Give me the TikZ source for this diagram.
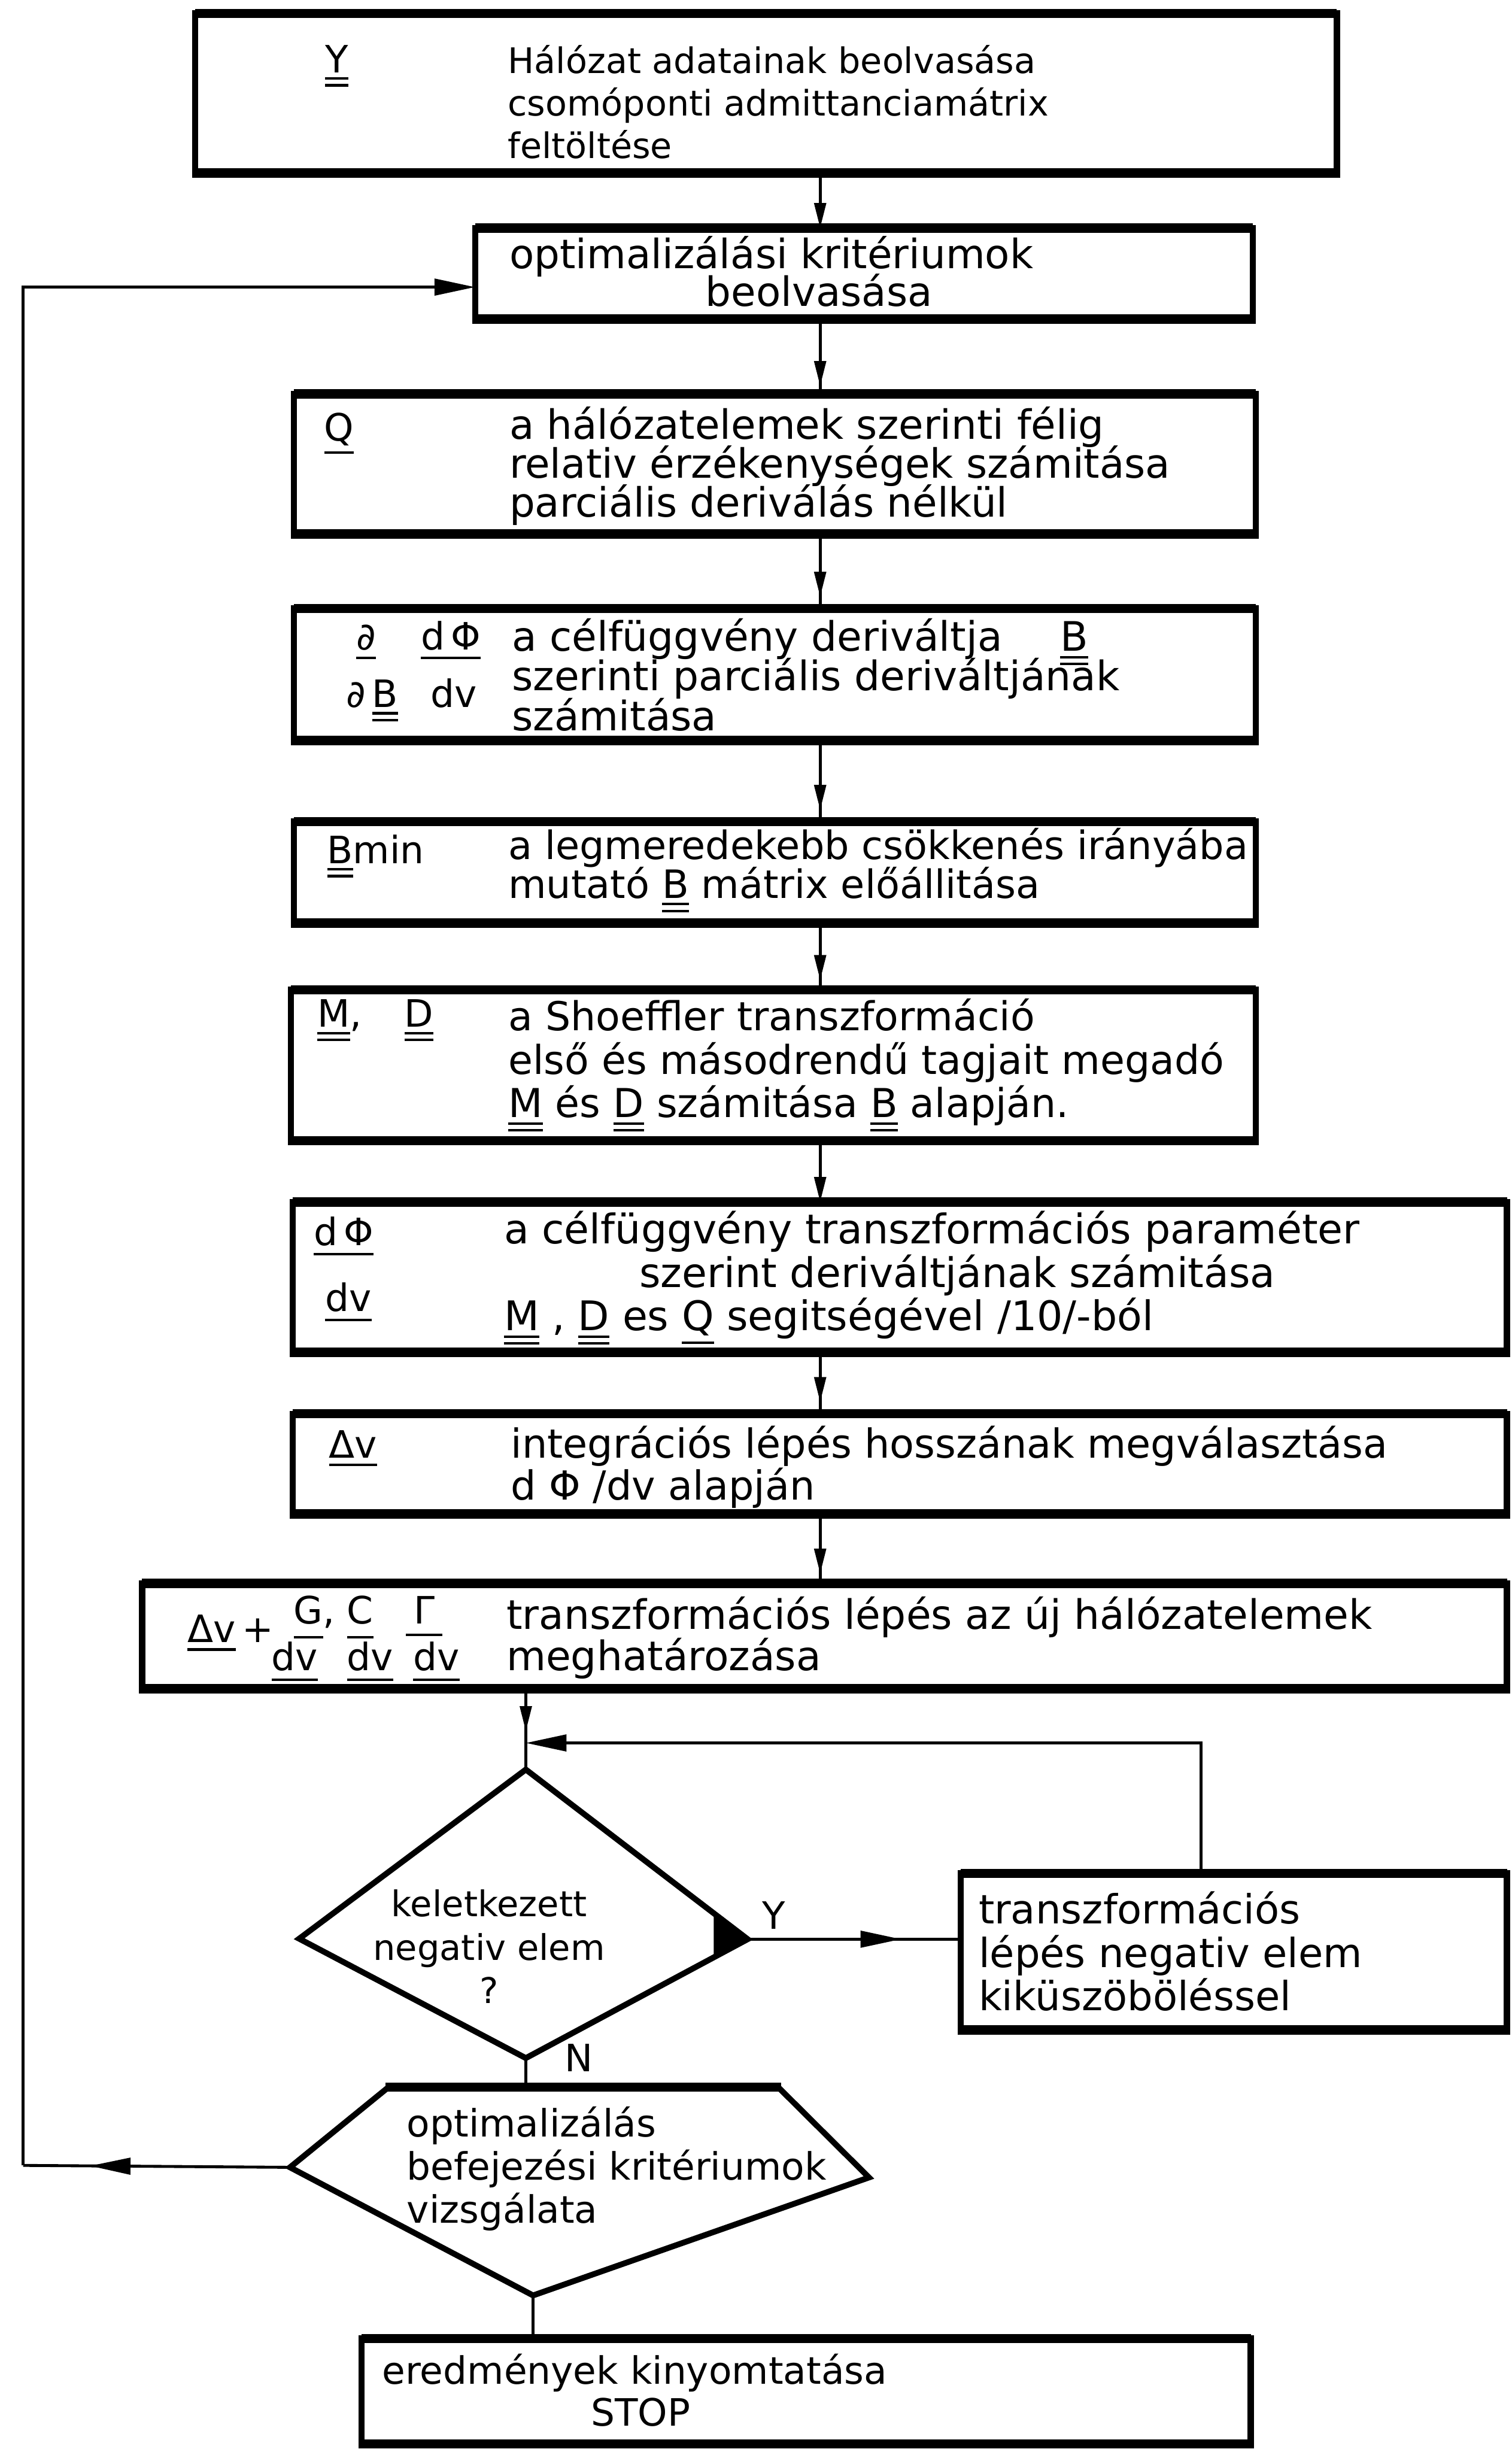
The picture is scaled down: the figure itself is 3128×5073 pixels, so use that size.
\documentclass[tikz,border=0pt]{standalone}
\usepackage{fontspec}
\setmainfont{DejaVu Sans}
\usetikzlibrary{arrows.meta,decorations.markings,fit,calc}

% lettering size
\newcommand\lett{\fontsize{19.5pt}{22pt}\selectfont}
% stacked lines with a fixed baseline distance; baseline = first line
\newcommand\tlines[2]{\vtop{\baselineskip=#1\relax\lineskiplimit=-\maxdimen\lineskip=0pt\halign{##\hfil\cr#2\crcr}}}
\newcommand\clines[2]{\vtop{\baselineskip=#1\relax\lineskiplimit=-\maxdimen\lineskip=0pt\halign{\hfil##\hfil\cr#2\crcr}}}
% single and double underlined symbols (vector / matrix notation)
\newcommand\unl[2][3pt]{\vtop{\hbox{#2}\kern#1\hrule height1.3pt}}
\newcommand\dunl[1]{\vtop{\hbox{#1}\kern2.5pt\hrule height1.3pt\kern2.2pt\hrule height1.3pt}}

\tikzset{
  procbox/.style={draw, line width=3.2pt, inner sep=0pt, outer sep=0pt},
  rimline/.style={line width=4.8pt, shorten <=-1.6pt, shorten >=-1.6pt},
  shapeline/.style={line width=3pt, line join=miter},
  txt/.style={anchor=base west, inner sep=0pt, outer sep=0pt, font=\lett},
  ctxt/.style={anchor=base, inner sep=0pt, outer sep=0pt, font=\lett},
  fs/.style={font=\fontsize{#1}{22pt}\selectfont},
  conn/.style={line width=1.5pt},
  tipsmall/.style={postaction=decorate, decoration={markings,
      mark=at position #1 with {\arrow{Triangle[length=13pt,width=6pt]}}}},
  tipbig/.style={postaction=decorate, decoration={markings,
      mark=at position #1 with {\arrow{Triangle[length=21pt,width=8.5pt]}}}},
  endsmall/.style={-{Triangle[length=13pt,width=6pt]}},
  endbig/.style={-{Triangle[length=21pt,width=8.5pt]}},
}

\begin{document}
\begin{tikzpicture}[x=0.25pt, y=-0.25pt]
\fill[white] (0,0) rectangle (3128,5073);
\useasboundingbox (0,0) rectangle (3128,5073);

% ---------- process boxes ----------
\node[procbox, fit={(404,28) (2766,358)}]   (b1) {};
\node[procbox, fit={(983,472) (2592,660)}]  (b2) {};
\node[procbox, fit={(608,815) (2598,1105)}] (b3) {};
\node[procbox, fit={(608,1259) (2598,1532)}] (b4) {};
\node[procbox, fit={(608,1700) (2598,1910)}] (b5) {};
\node[procbox, fit={(602,2048) (2598,2360)}] (b6) {};
\node[procbox, fit={(606,2487) (3118,2798)}] (b7) {};
\node[procbox, fit={(606,2925) (3118,3132)}] (b8) {};
\node[procbox, fit={(294,3276) (3118,3494)}] (b9) {};
\node[procbox, fit={(1988,3876) (3118,4200)}] (rb) {};
\node[procbox, fit={(748,4838) (2588,5056)}] (bf) {};
\foreach \n in {b1,b2,b3,b4,b5,b6,b7,b8,b9,rb,bf}
  \draw[rimline] (\n.north west) -- (\n.north east) (\n.south west) -- (\n.south east);

% ---------- decision shapes ----------
\coordinate (dt) at (1088,3661);
\coordinate (dr) at (1547,4012);
\coordinate (db) at (1088,4258);
\coordinate (dl) at (619,4011);
\draw[shapeline] (dt) -- (dr) -- (db) -- (dl) -- cycle;
\fill ($(dr)!0.153!(dt)$) -- (dr) -- ($(dr)!0.153!(db)$) -- cycle;

\coordinate (p1) at (804,4318);
\coordinate (p2) at (1610,4318);
\coordinate (pr) at (1798,4505);
\coordinate (pb) at (1103,4749);
\coordinate (pl) at (600,4484);
\coordinate (ptop) at (1088,4318);
\draw[shapeline] (p1) -- (p2) -- (pr) -- (pb) -- (pl) -- cycle;
\draw[rimline] (p1) -- (p2);

% ---------- texts ----------
\node[txt] (s1) at (673,150) {\dunl{Y}};
\node[txt, fs=18.2pt] (t1) at (1051,152) {\tlines{22pt}{Hálózat adatainak beolvasása\cr
  csomóponti admittanciamátrix\cr feltöltése}};

\node[txt, fs=20.9pt] (t2) at (1054,556) {\tlines{19.25pt}{optimalizálási kritériumok\cr
  \kern101.5pt beolvasása}};

\node[txt] (s3) at (671,912) {\unl{Q}};
\node[txt, fs=20.9pt] (t3) at (1054,909) {\tlines{20pt}{a hálózatelemek szerinti félig\cr
  relativ érzékenységek számitása\cr parciális deriválás nélkül}};

\node[txt] (s4a) at (737,1345) {\unl{∂}};
\node[txt] (s4b) at (871,1345) {\unl{d\,Φ}};
\node[txt] (s4c) at (717,1463) {∂\,\dunl{B}};
\node[txt] (s4d) at (891,1463) {dv};
\node[txt, fs=21pt] (t4) at (1059,1347) {\tlines{20.5pt}{a célfüggvény deriváltja\kern30pt\dunl{B}\cr
  szerinti parciális deriváltjának\cr számitása}};

\node[txt] (s5) at (677,1786) {\dunl{B}min};
\node[txt, fs=20.2pt] (t5) at (1052,1778) {\tlines{20pt}{a legmeredekebb csökkenés irányába\cr
  mutató \dunl{B} mátrix előállitása}};

\node[txt] (s6) at (657,2125) {\dunl{M},\kern22pt\dunl{D}};
\node[txt, fs=20.6pt] (t6) at (1052,2132) {\tlines{22.5pt}{a Shoeffler transzformáció\cr
  első és másodrendű tagjait megadó\cr
  \dunl{M} és \dunl{D} számitása \dunl{B} alapján.}};

\node[txt] (s7a) at (649,2577) {\unl[3.5pt]{d\,Φ}};
\node[txt] (s7b) at (673,2713) {\unl[3.5pt]{dv}};
\node[txt, fs=21.1pt] (t7) at (1043,2573) {\tlines{22.5pt}{a célfüggvény transzformációs paraméter\cr
  \kern70pt szerint deriváltjának számitása\cr
  \dunl{M} , \dunl{D} es \unl{Q} segitségével /10/-ból}};

\node[txt] (s8) at (681,3016) {\unl{Δv}};
\node[txt, fs=20.7pt] (t8) at (1057,3016) {\tlines{21.75pt}{integrációs lépés hosszának megválasztása\cr
  d Φ /dv alapján}};

\node[txt] (s9a) at (388,3398) {\unl{Δv}\,+};
\node[txt] (s9b) at (608,3360) {\unl[6pt]{G},};
\node[txt] (s9c) at (718,3360) {\unl[6pt]{C}};
\node[txt] (s9d) at (840,3360) {\unl[5pt]{\kern4pt Γ\kern4pt}};
\node[txt] (s9e) at (562,3456) {\unl[4pt]{dv}};
\node[txt] (s9f) at (718,3456) {\unl[4pt]{dv}};
\node[txt] (s9g) at (855,3456) {\unl[4pt]{dv}};
\node[txt, fs=21pt] (t9) at (1048,3371) {\tlines{21.25pt}{transzformációs lépés az új hálózatelemek\cr
  meghatározása}};

\node[ctxt, fs=18.3pt] (td) at (1012,3965) {\clines{22.5pt}{keletkezett\cr negativ elem\cr ?}};
\node[txt] (ly) at (1577,3991) {Y};
\node[txt] (ln) at (1168,4286) {N};

\node[txt, fs=20.8pt] (trb) at (2025,3980) {\tlines{22.5pt}{transzformációs\cr
  lépés negativ elem\cr kiküszöböléssel}};

\node[txt] (tp) at (842,4421) {\tlines{22.25pt}{optimalizálás\cr
  befejezési kritériumok\cr vizsgálata}};

\node[txt] (tf) at (791,4932) {\tlines{21.75pt}{eredmények kinyomtatása\cr
  \kern108pt STOP}};

% ---------- main flow ----------
\coordinate (ax) at (1697,0);
\draw[conn, endsmall] (b1.south -| ax) -- (b2.north -| ax);
\draw[conn, tipsmall=-4pt] (b2.south -| ax) -- (b3.north -| ax);
\draw[conn, tipsmall=-6pt] (b3.south -| ax) -- (b4.north -| ax);
\draw[conn, tipsmall=-6pt] (b4.south -| ax) -- (b5.north -| ax);
\draw[conn, tipsmall=-5pt] (b5.south -| ax) -- (b6.north -| ax);
\draw[conn, endsmall] (b6.south -| ax) -- (b7.north -| ax);
\draw[conn, tipsmall=-6pt] (b7.south -| ax) -- (b8.north -| ax);
\draw[conn, tipsmall=-5pt] (b8.south -| ax) -- (b9.north -| ax);

\coordinate (ax2) at (1088,0);
\coordinate (j) at (1088,3606);
\draw[conn, tipsmall=-6pt] (b9.south -| ax2) -- (j);
\draw[conn] (j) -- (dt);

% correction loop
\coordinate (fx) at (2485,0);
\draw[conn, endbig] (rb.north -| fx) -- (fx |- j) -- (j);
\draw[conn, tipbig=0.72] (dr) -- (rb.west |- dr);

% towards the termination test and the end
\draw[conn] (db) -- (ptop);
\draw[conn] (pb) -- (pb |- bf.north);

% outer optimisation loop
\coordinate (fl1) at (48,4480);
\coordinate (fl2) at (48,594);
\draw[conn, tipbig=0.75] (pl) -- (fl1);
\draw[conn, endbig] (fl1) -- (fl2) -- (b2.west |- fl2);
\end{tikzpicture}
\end{document}
